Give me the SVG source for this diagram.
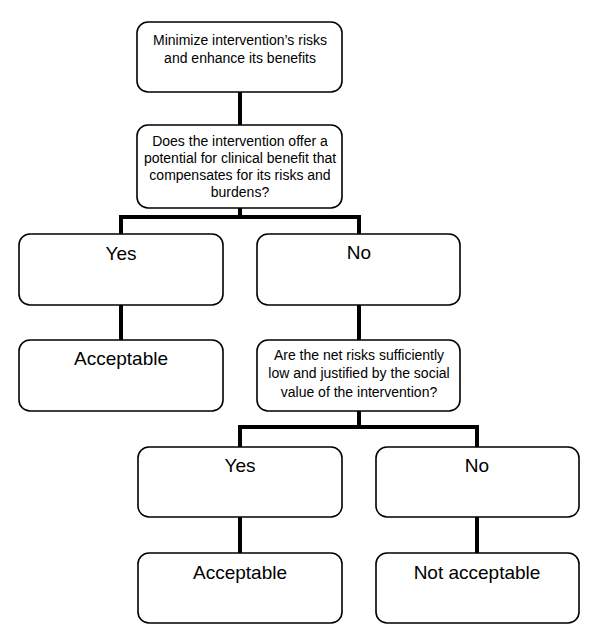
<svg xmlns="http://www.w3.org/2000/svg" width="600" height="644" viewBox="0 0 600 644">
<style>
.box{fill:#fff;stroke:#000;stroke-width:1.6}
.s{font-family:"Liberation Sans",Arial,sans-serif;font-size:14px;text-anchor:middle;fill:#000}
.l{font-family:"Liberation Sans",Arial,sans-serif;font-size:19px;text-anchor:middle;fill:#000}
.c{fill:none;stroke:#000;stroke-width:4;stroke-linecap:butt;stroke-linejoin:miter}
</style>
<rect width="600" height="644" fill="#fff"/>
<g id="connectors">
<path class="c" d="M240 92V125"/>
<path class="c" d="M240 208V217M121 234V217H359V234"/>
<path class="c" d="M121 305V340"/>
<path class="c" d="M359 305V340"/>
<path class="c" d="M359 411V427M240 447V427H477V447"/>
<path class="c" d="M240 517V553"/>
<path class="c" d="M477 517V553"/>
</g>
<g id="n1"><rect class="box" x="137" y="22" width="205" height="70" rx="11"/>
<text class="s" x="240" y="45">Minimize intervention’s risks</text>
<text class="s" x="240" y="63">and enhance its benefits</text></g>
<g id="n2"><rect class="box" x="137" y="125" width="205" height="83" rx="11"/>
<text class="s" x="240" y="146">Does the intervention offer a</text>
<text class="s" x="240" y="163">potential for clinical benefit that</text>
<text class="s" x="240" y="180">compensates for its risks and</text>
<text class="s" x="240" y="197">burdens?</text></g>
<g id="n3"><rect class="box" x="19" y="234" width="204" height="71" rx="11"/>
<text class="l" x="121" y="260">Yes</text></g>
<g id="n4"><rect class="box" x="257" y="234" width="203" height="71" rx="11"/>
<text class="l" x="359" y="259">No</text></g>
<g id="n5"><rect class="box" x="19" y="340" width="204" height="71" rx="11"/>
<text class="l" x="121" y="365">Acceptable</text></g>
<g id="n6"><rect class="box" x="257" y="340" width="203" height="71" rx="11"/>
<text class="s" x="359" y="360">Are the net risks sufficiently</text>
<text class="s" x="359" y="378">low and justified by the social</text>
<text class="s" x="359" y="397">value of the intervention?</text></g>
<g id="n7"><rect class="box" x="138" y="447" width="204" height="70" rx="11"/>
<text class="l" x="240" y="472">Yes</text></g>
<g id="n8"><rect class="box" x="376" y="447" width="203" height="70" rx="11"/>
<text class="l" x="477" y="472">No</text></g>
<g id="n9"><rect class="box" x="138" y="553" width="204" height="70" rx="11"/>
<text class="l" x="240" y="579">Acceptable</text></g>
<g id="n10"><rect class="box" x="376" y="553" width="203" height="70" rx="11"/>
<text class="l" x="477" y="579">Not acceptable</text></g>
</svg>
